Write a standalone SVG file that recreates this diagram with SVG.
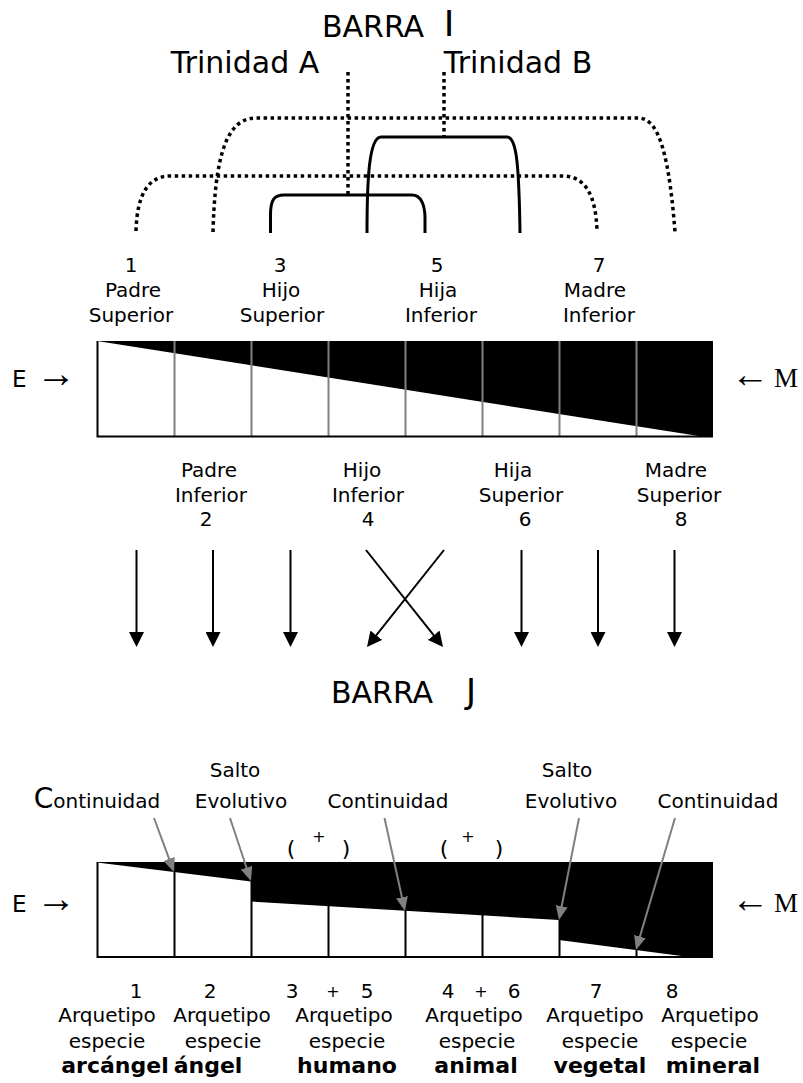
<svg xmlns="http://www.w3.org/2000/svg" width="803" height="1083" viewBox="0 0 803 1083">
<style>
.t{font-family:"DejaVu Sans",sans-serif;font-size:20px;fill:#000;text-anchor:middle}
.b{font-weight:bold;font-size:22px}
.big{font-size:30px}
.ser{font-family:"Liberation Serif",serif}
.dot{fill:none;stroke:#000;stroke-width:3.5;stroke-dasharray:3.5 3.5}
.sol{fill:none;stroke:#000;stroke-width:3}
.arr{fill:none;stroke:#000;stroke-width:2;marker-end:url(#ah)}
.garr{fill:none;stroke:#808080;stroke-width:2;marker-end:url(#gh)}
.gdiv{stroke:#808080;stroke-width:2}
.kdiv{stroke:#000;stroke-width:2}
.edge{fill:none;stroke:#000;stroke-width:2}
</style>
<defs>
<marker id="ah" markerUnits="userSpaceOnUse" markerWidth="15" markerHeight="15" refX="5" refY="7.5" orient="auto" viewBox="0 0 15 15"><path d="M0,0 L15,7.5 L0,15 z" fill="#000"/></marker>
<marker id="gh" markerUnits="userSpaceOnUse" markerWidth="14" markerHeight="12" refX="4" refY="6" orient="auto" viewBox="0 0 14 12"><path d="M0,0 L14,6 L0,12 z" fill="#808080"/></marker>
</defs>
<rect width="803" height="1083" fill="#fff"/>

<g id="title-i"><text class="t big" x="373" y="37">BARRA</text><text class="t" x="449" y="36" style="font-size:36px">I</text></g>
<g id="trinidad-a"><text class="t big" x="245" y="73">Trinidad A</text></g>
<g id="trinidad-b"><text class="t big" x="518" y="73">Trinidad B</text></g>

<g id="label-1"><text class="t" x="131" y="272">1</text><text class="t" x="133" y="297">Padre</text><text class="t" x="131" y="322">Superior</text></g>
<g id="label-3"><text class="t" x="280" y="272">3</text><text class="t" x="281" y="297">Hijo</text><text class="t" x="282" y="322">Superior</text></g>
<g id="label-5"><text class="t" x="437" y="272">5</text><text class="t" x="438" y="297">Hija</text><text class="t" x="441" y="322">Inferior</text></g>
<g id="label-7"><text class="t" x="599" y="272">7</text><text class="t" x="595" y="297">Madre</text><text class="t" x="599" y="322">Inferior</text></g>

<g id="bar-top">
<rect x="97" y="341" width="616" height="96" fill="#fff"/>
<polygon points="97,341 713,341 713,437 705,437" fill="#000"/>
<path class="gdiv" d="M174.5,341V437M251.5,341V437M328.5,341V437M405.5,341V437M482.5,341V437M559.5,341V437M636.5,341V437"/>
<path class="edge" d="M97.5,341V436.5H713"/>
</g>
<g id="em-top"><text class="t" x="12" y="387" style="text-anchor:start;font-size:23px">E<tspan class="ser" x="36" style="font-size:40px">→</tspan></text>
<text class="t ser" x="731" y="387" style="text-anchor:start;font-size:38px">←<tspan x="774" style="font-size:27px">M</tspan></text></g>

<g id="label-2"><text class="t" x="209" y="477">Padre</text><text class="t" x="211" y="502">Inferior</text><text class="t" x="206" y="526">2</text></g>
<g id="label-4"><text class="t" x="362" y="477">Hijo</text><text class="t" x="368" y="502">Inferior</text><text class="t" x="368" y="526">4</text></g>
<g id="label-6"><text class="t" x="513" y="477">Hija</text><text class="t" x="521" y="502">Superior</text><text class="t" x="525" y="526">6</text></g>
<g id="label-8"><text class="t" x="676" y="477">Madre</text><text class="t" x="679" y="502">Superior</text><text class="t" x="681" y="526">8</text></g>

<g id="title-j"><text class="t big" x="382" y="703">BARRA</text><text class="t" x="471" y="703" style="font-size:34px">J</text></g>

<g id="continuidad-1"><text class="t" x="97" y="808"><tspan style="font-size:28px">C</tspan>ontinuidad</text></g>
<g id="salto-1"><text class="t" x="235" y="777">Salto</text><text class="t" x="241" y="808">Evolutivo</text></g>
<g id="continuidad-2"><text class="t" x="388" y="808">Continuidad</text></g>
<g id="salto-2"><text class="t" x="567" y="777">Salto</text><text class="t" x="571" y="808">Evolutivo</text></g>
<g id="continuidad-3"><text class="t" x="718" y="808">Continuidad</text></g>

<g id="plus-1"><text class="t" x="291" y="856" style="font-size:22px">(</text><text class="t" x="319" y="842" style="font-size:16px">+</text><text class="t" x="346" y="856" style="font-size:22px">)</text></g>
<g id="plus-2"><text class="t" x="444" y="856" style="font-size:22px">(</text><text class="t" x="468" y="842" style="font-size:16px">+</text><text class="t" x="499" y="856" style="font-size:22px">)</text></g>

<g id="bar-bottom">
<rect x="97" y="862" width="616" height="96" fill="#fff"/>
<polygon points="97,862 713,862 713,958 697,958 559,940 559,920 251,901.5 251,881.5 97,862.5" fill="#000"/>
<path class="kdiv" d="M174.5,862V958M251.5,862V958M328.5,862V958M405.5,862V958M482.5,862V958M559.5,862V958M636.5,862V958"/>
<path class="edge" d="M97.5,862V957H713"/>
</g>
<g id="em-bottom"><text class="t" x="12" y="912" style="text-anchor:start;font-size:23px">E<tspan class="ser" x="36" style="font-size:40px">→</tspan></text>
<text class="t ser" x="731" y="912" style="text-anchor:start;font-size:38px">←<tspan x="774" style="font-size:27px">M</tspan></text></g>

<g id="species-1"><text class="t" x="136" y="998">1</text><text class="t" x="107" y="1022">Arquetipo</text><text class="t" x="107" y="1048">especie</text><text class="t b" x="115" y="1073">arcángel</text></g>
<g id="species-2"><text class="t" x="210" y="998">2</text><text class="t" x="222" y="1022">Arquetipo</text><text class="t" x="223" y="1048">especie</text><text class="t b" x="208" y="1073">ángel</text></g>
<g id="species-3"><text class="t" x="292" y="998">3</text><text class="t" x="333" y="997" style="font-size:16px">+</text><text class="t" x="367" y="998">5</text><text class="t" x="344" y="1022">Arquetipo</text><text class="t" x="347" y="1048">especie</text><text class="t b" x="347" y="1073">humano</text></g>
<g id="species-4"><text class="t" x="448" y="998">4</text><text class="t" x="481" y="997" style="font-size:16px">+</text><text class="t" x="514" y="998">6</text><text class="t" x="474" y="1022">Arquetipo</text><text class="t" x="477" y="1048">especie</text><text class="t b" x="476" y="1073">animal</text></g>
<g id="species-7"><text class="t" x="596" y="998">7</text><text class="t" x="595" y="1022">Arquetipo</text><text class="t" x="600" y="1048">especie</text><text class="t b" x="600" y="1073">vegetal</text></g>
<g id="species-8"><text class="t" x="672" y="998">8</text><text class="t" x="710" y="1022">Arquetipo</text><text class="t" x="709" y="1048">especie</text><text class="t b" x="713" y="1073">mineral</text></g>

<g id="connectors">
<path class="dot" d="M348,72V195"/>
<path class="dot" d="M444,72V137"/>
<path class="dot" d="M213,232C215,160 225,118 256,118L638,118C655,118 668,140 675,232"/>
<path class="dot" d="M136,231C137,195 148,176 170,176L563,176C585,176 596,195 597,231"/>
<path class="sol" d="M270.5,233L270.5,215C270.5,200 274,195 284,195L412,195C421,195 425,205 425,218L425,233"/>
<path class="sol" d="M367,233C367,180 369,137 381,137L507,137C516,137 519,160 520,233"/>
<path class="arr" d="M136.5,550V637"/>
<path class="arr" d="M213,550V637"/>
<path class="arr" d="M290.5,550V637"/>
<path class="arr" d="M366,550L436.8,639.2"/>
<path class="arr" d="M444,550L373.2,639.2"/>
<path class="arr" d="M521.5,550V637"/>
<path class="arr" d="M598,550V637"/>
<path class="arr" d="M674.5,550V637"/>
<path class="garr" d="M154,818L170.5,862.6"/>
<path class="garr" d="M230,818L247.8,871.5"/>
<path class="garr" d="M384.5,818L402.8,901.2"/>
<path class="garr" d="M579,818L560.9,910.2"/>
<path class="garr" d="M675,818L638.8,940.4"/>
</g>
</svg>
